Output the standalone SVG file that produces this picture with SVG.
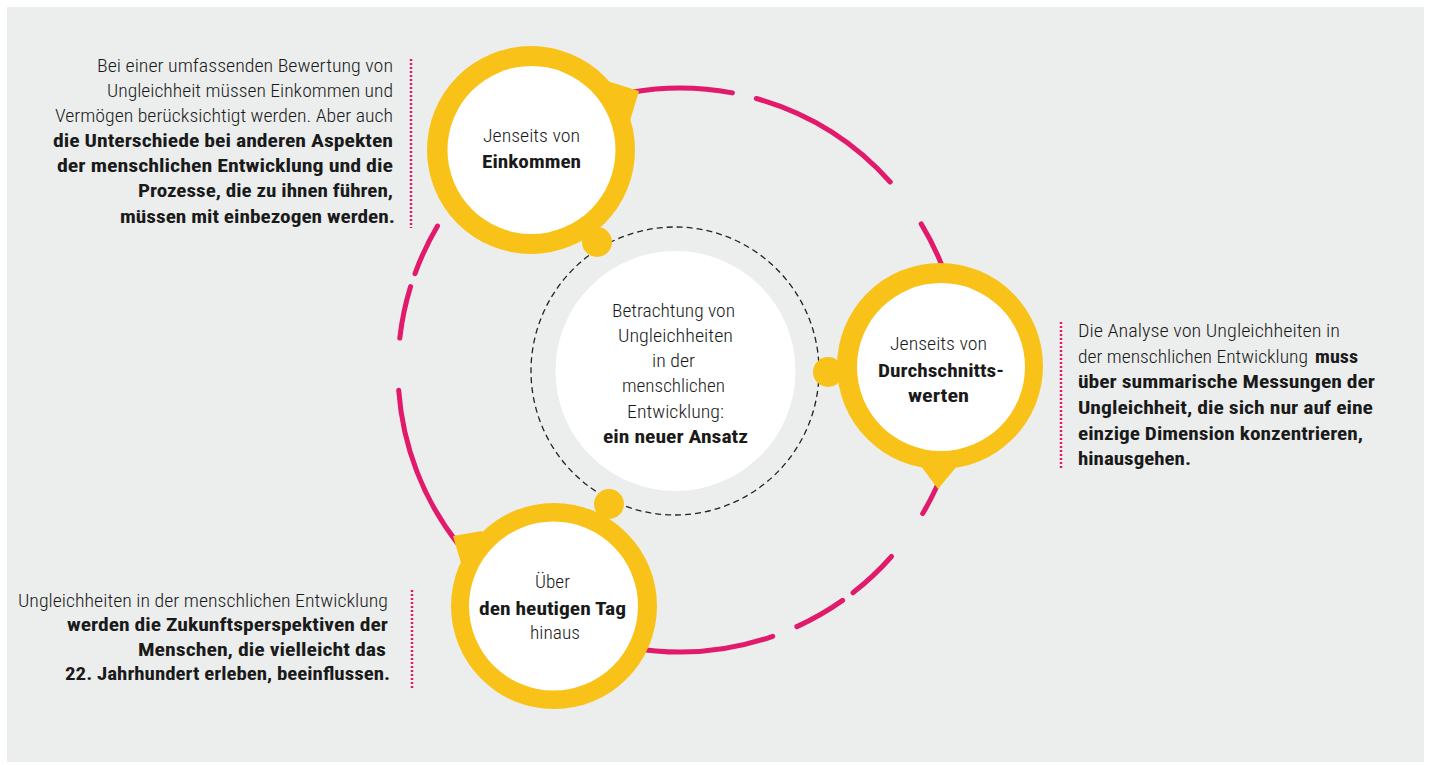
<svg xmlns="http://www.w3.org/2000/svg" width="1429" height="765" viewBox="0 0 1429 765">
<style>
.bg{fill:#eceeed}
.arc{fill:none;stroke:#e11a6b;stroke-width:5;stroke-linecap:round}
.ring{fill:#f9c218}
.inner{fill:#ffffff}
.dash{fill:none;stroke:#222;stroke-width:1.3;stroke-dasharray:6 4}
.dot{fill:none;stroke:#e11a6b;stroke-width:2.5;stroke-dasharray:2 2}
text{font-family:"Liberation Sans Narrow","Roboto Condensed","Liberation Sans",Arial,sans-serif;fill:#1a1a1a;font-weight:300}
.s{font-size:17.5px}
.n{font-size:19px}
.c{font-size:18.5px}
.b{font-weight:bold}
</style>
<rect class="bg" x="7" y="7" width="1417" height="755"/>
<g id="connectors">
<path class="arc" d="M631,92.3 A282,282 0 0 1 732.4,92.9"/>
<path class="arc" d="M756.3,98.5 A282,282 0 0 1 890.2,182"/>
<path class="arc" d="M921.2,223.9 A282,282 0 0 1 952.4,297"/>
<path class="arc" d="M945,466.5 A282,282 0 0 1 922.7,513.5"/>
<path class="arc" d="M891.5,556.5 A282,282 0 0 1 852.9,592.8"/>
<path class="arc" d="M842.6,600.4 A282,282 0 0 1 796.9,626.6"/>
<path class="arc" d="M772.7,636.3 A282,282 0 0 1 631,647.7"/>
<path class="arc" d="M457.8,543.6 A282,282 0 0 1 398.7,390.2"/>
<path class="arc" d="M399.8,338.1 A282,282 0 0 1 410.6,286.6"/>
<path class="arc" d="M415,273.6 A282,282 0 0 1 437.5,226"/>
</g>
<g id="center">
<circle class="dash" cx="675" cy="371" r="144"/>
<circle class="inner" cx="675.5" cy="371" r="120"/>
<text class="c" x="612" y="317" textLength="123" lengthAdjust="spacingAndGlyphs">Betrachtung von</text>
<text class="c" x="618" y="342" textLength="115" lengthAdjust="spacingAndGlyphs">Ungleichheiten</text>
<text class="c" x="652" y="367" textLength="43" lengthAdjust="spacingAndGlyphs">in der</text>
<text class="c" x="622" y="392" textLength="103" lengthAdjust="spacingAndGlyphs">menschlichen</text>
<text class="c" x="627" y="418" textLength="97" lengthAdjust="spacingAndGlyphs">Entwicklung:</text>
<text class="c b" x="603" y="443" textLength="145" lengthAdjust="spacingAndGlyphs">ein neuer Ansatz</text>
</g>
<g id="node-einkommen">
<circle class="ring" cx="531" cy="150" r="104"/>
<polygon class="ring" points="604,80 639,91 629,124 590,120"/>
<circle class="ring" cx="597" cy="242" r="15"/>
<circle class="inner" cx="531.5" cy="150" r="84"/>
<text class="n" x="483" y="142" textLength="97" lengthAdjust="spacingAndGlyphs">Jenseits von</text>
<text class="n b" x="482" y="168" textLength="99" lengthAdjust="spacingAndGlyphs">Einkommen</text>
</g>
<g id="node-durchschnitt">
<circle class="ring" cx="940" cy="366" r="103"/>
<polygon class="ring" points="918,462 938,489 962,460 940,440"/>
<circle class="ring" cx="828" cy="372" r="15"/>
<circle class="inner" cx="941" cy="367" r="84"/>
<text class="n" x="890" y="350" textLength="97" lengthAdjust="spacingAndGlyphs">Jenseits von</text>
<text class="n b" x="878" y="377" textLength="126" lengthAdjust="spacingAndGlyphs">Durchschnitts-</text>
<text class="n b" x="908" y="402" textLength="61" lengthAdjust="spacingAndGlyphs">werten</text>
</g>
<g id="node-zukunft">
<circle class="ring" cx="554" cy="606" r="103"/>
<polygon class="ring" points="453,536 482,531 490,560 461,563"/>
<circle class="ring" cx="609" cy="504" r="15"/>
<circle class="inner" cx="553.5" cy="606" r="84.5"/>
<text class="n" x="535" y="588" textLength="35" lengthAdjust="spacingAndGlyphs">Über</text>
<text class="n b" x="479" y="615" textLength="147" lengthAdjust="spacingAndGlyphs">den heutigen Tag</text>
<text class="n" x="530" y="639" textLength="50" lengthAdjust="spacingAndGlyphs">hinaus</text>
</g>
<g id="note-einkommen">
<line class="dot" x1="411" y1="59" x2="411" y2="228"/>
<text class="s" x="97" y="72" textLength="296" lengthAdjust="spacingAndGlyphs">Bei einer umfassenden Bewertung von</text>
<text class="s" x="107" y="97" textLength="286" lengthAdjust="spacingAndGlyphs">Ungleichheit müssen Einkommen und</text>
<text class="s" x="55" y="122" textLength="338" lengthAdjust="spacingAndGlyphs">Vermögen berücksichtigt werden. Aber auch</text>
<text class="s b" x="53" y="147" textLength="340" lengthAdjust="spacingAndGlyphs">die Unterschiede bei anderen Aspekten</text>
<text class="s b" x="57" y="172" textLength="336" lengthAdjust="spacingAndGlyphs">der menschlichen Entwicklung und die</text>
<text class="s b" x="138" y="197" textLength="255" lengthAdjust="spacingAndGlyphs">Prozesse, die zu ihnen führen,</text>
<text class="s b" x="120" y="223" textLength="275" lengthAdjust="spacingAndGlyphs">müssen mit einbezogen werden.</text>
</g>
<g id="note-durchschnitt">
<line class="dot" x1="1061" y1="322" x2="1061" y2="468"/>
<text class="s" x="1078" y="337" textLength="262" lengthAdjust="spacingAndGlyphs">Die Analyse von Ungleichheiten in</text>
<text class="s" x="1078" y="362.5" textLength="230" lengthAdjust="spacingAndGlyphs">der menschlichen Entwicklung</text>
<text class="s b" x="1315" y="362.5" textLength="43" lengthAdjust="spacingAndGlyphs">muss</text>
<text class="s b" x="1078" y="388" textLength="297" lengthAdjust="spacingAndGlyphs">über summarische Messungen der</text>
<text class="s b" x="1078" y="414" textLength="295" lengthAdjust="spacingAndGlyphs">Ungleichheit, die sich nur auf eine</text>
<text class="s b" x="1078" y="439.5" textLength="285" lengthAdjust="spacingAndGlyphs">einzige Dimension konzentrieren,</text>
<text class="s b" x="1078" y="465" textLength="113" lengthAdjust="spacingAndGlyphs">hinausgehen.</text>
</g>
<g id="note-zukunft">
<line class="dot" x1="412" y1="590" x2="412" y2="689"/>
<text class="s" x="18" y="607" textLength="370" lengthAdjust="spacingAndGlyphs">Ungleichheiten in der menschlichen Entwicklung</text>
<text class="s b" x="67" y="631" textLength="321" lengthAdjust="spacingAndGlyphs">werden die Zukunftsperspektiven der</text>
<text class="s b" x="138" y="656" textLength="248" lengthAdjust="spacingAndGlyphs">Menschen, die vielleicht das</text>
<text class="s b" x="65" y="680" textLength="325" lengthAdjust="spacingAndGlyphs">22. Jahrhundert erleben, beeinflussen.</text>
</g>
</svg>
